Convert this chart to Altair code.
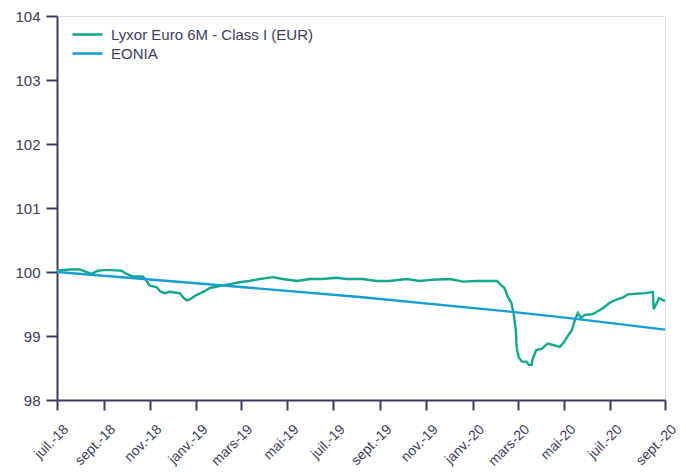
import altair as alt
import pandas as pd

# ---- data ----
fund_dates = [
    "2018-07-01", "2018-07-18", "2018-07-31", "2018-08-04", "2018-08-16", "2018-08-24",
    "2018-08-31", "2018-09-11", "2018-09-24", "2018-10-01", "2018-10-09", "2018-10-22",
    "2018-10-27", "2018-10-31", "2018-11-10", "2018-11-14", "2018-11-20", "2018-11-27",
    "2018-12-03", "2018-12-10", "2018-12-15", "2018-12-19", "2018-12-23", "2019-01-01",
    "2019-01-12", "2019-01-19", "2019-02-01", "2019-02-14", "2019-02-27", "2019-03-12",
    "2019-03-26", "2019-04-12", "2019-04-25", "2019-05-14", "2019-05-31", "2019-06-17",
    "2019-07-05", "2019-07-19", "2019-08-09", "2019-08-27", "2019-09-13", "2019-10-06",
    "2019-10-23", "2019-11-09", "2019-12-02", "2019-12-19", "2020-01-06", "2020-01-23",
    "2020-02-02", "2020-02-07", "2020-02-12", "2020-02-16", "2020-02-21", "2020-02-24",
    "2020-02-27", "2020-02-28", "2020-03-02", "2020-03-06", "2020-03-12", "2020-03-15",
    "2020-03-19", "2020-03-20", "2020-03-25", "2020-04-01", "2020-04-09", "2020-04-16",
    "2020-04-25", "2020-05-01", "2020-05-05", "2020-05-11", "2020-05-15", "2020-05-19",
    "2020-05-23", "2020-05-28", "2020-06-07", "2020-06-13", "2020-06-19", "2020-06-26",
    "2020-06-30", "2020-07-09", "2020-07-17", "2020-07-24", "2020-08-05", "2020-08-16",
    "2020-08-26", "2020-08-27", "2020-09-01", "2020-09-03", "2020-09-08", "2020-09-11",
]
fund_values = [
    100.02, 100.04, 100.04, 100.02, 99.97, 100.02,
    100.03, 100.03, 100.02, 99.97, 99.93, 99.93,
    99.87, 99.79, 99.76, 99.70, 99.67, 99.69,
    99.68, 99.67, 99.60, 99.56, 99.57, 99.64,
    99.70, 99.75, 99.78, 99.81, 99.84, 99.86,
    99.89, 99.92, 99.89, 99.86, 99.89, 99.89,
    99.91, 99.89, 99.89, 99.86, 99.86, 99.89,
    99.86, 99.88, 99.89, 99.85, 99.86, 99.86,
    99.86, 99.80, 99.75, 99.62, 99.52, 99.36,
    99.09, 98.83, 98.66, 98.60, 98.60, 98.55,
    98.55, 98.63, 98.78, 98.80, 98.88, 98.86,
    98.83, 98.91, 98.99, 99.09, 99.25, 99.36,
    99.28, 99.33, 99.34, 99.38, 99.42, 99.48,
    99.52, 99.57, 99.60, 99.65, 99.66, 99.67,
    99.69, 99.42, 99.54, 99.59, 99.56, 99.55,
]

eonia_dates = ["2018-07-01", "2019-01-05", "2019-08-05", "2020-02-19", "2020-05-08", "2020-09-11"]
eonia_values = [100.00, 99.82, 99.61, 99.38, 99.28, 99.10]

series_names = ["Lyxor Euro 6M - Class I (EUR)", "EONIA"]
series_colors = ["#12a88e", "#139fd2"]

tick_dates = [
    "2018-07-01", "2018-09-01", "2018-11-01", "2019-01-01", "2019-03-01", "2019-05-01",
    "2019-07-01", "2019-09-01", "2019-11-01", "2020-01-01", "2020-03-01", "2020-05-01",
    "2020-07-01", "2020-09-11",
]
x_start, x_end = "2018-07-01", "2020-09-11"
y_ticks = [98, 99, 100, 101, 102, 103, 104]

# ---- build table ----
df = pd.concat([
    pd.DataFrame({"date": fund_dates, "value": fund_values, "series": series_names[0]}),
    pd.DataFrame({"date": eonia_dates, "value": eonia_values, "series": series_names[1]}),
])


def ms(s):
    return int(pd.Timestamp(s, tz="UTC").value // 10**6)


axis_color = "#3d3d63"
font = "Liberation Sans"

month_expr = ("['janv.','févr.','mars','avr.','mai','juin','juil.','août','sept.','oct.','nov.','déc.']"
              "[utcmonth(datum.value)] + '-' + utcFormat(datum.value, '%y')")

chart = alt.Chart(df).mark_line(strokeWidth=2.4, interpolate="linear").encode(
    x=alt.X(
        "date:T",
        scale=alt.Scale(type="utc", domain=[ms(x_start), ms(x_end)], nice=False),
        axis=alt.Axis(
            title=None, values=[ms(d) for d in tick_dates], labelExpr=month_expr,
            labelAngle=-45, labelAlign="right", labelBaseline="top",
            labelPadding=12, labelOffset=4, labelFontSize=14, labelFont=font,
            labelColor=axis_color, tickSize=10, tickWidth=2, tickColor=axis_color,
            domainColor=axis_color, domainWidth=2, grid=False, labelOverlap=False,
            labelBound=False, labelFlush=False,
        ),
    ),
    y=alt.Y(
        "value:Q",
        scale=alt.Scale(domain=[98, 104], nice=False, zero=False),
        axis=alt.Axis(
            title=None, values=y_ticks, format="d", labelFontSize=15, labelFont=font,
            labelColor=axis_color, labelPadding=6, tickSize=11, tickWidth=2,
            tickColor=axis_color, domainColor=axis_color, domainWidth=2, grid=False,
        ),
    ),
    color=alt.Color(
        "series:N",
        scale=alt.Scale(domain=series_names, range=series_colors),
        sort=series_names,
        legend=alt.Legend(
            title=None, orient="none", legendX=14, legendY=9,
            symbolType="stroke", symbolSize=900, symbolStrokeWidth=2.6,
            labelFontSize=15, labelFont=font, labelColor=axis_color,
            labelOffset=7, rowPadding=0, clipHeight=19, padding=0, labelLimit=400,
        ),
    ),
    order=alt.Order("date:T"),
).properties(
    width=608,
    height=384,
    autosize=alt.AutoSizeParams(type="none"),
    padding={"left": 49, "top": 8, "right": 13, "bottom": 72},
).configure_view(stroke=None).configure(background="white")

chart.save("out.html", embed_options={"renderer": "svg", "actions": False})
